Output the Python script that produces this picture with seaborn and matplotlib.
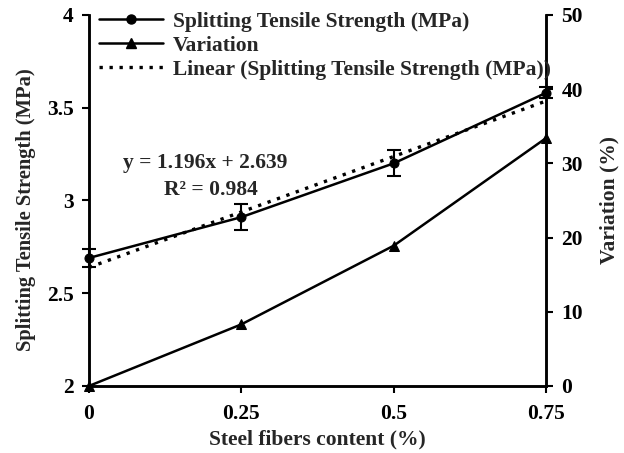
import matplotlib
matplotlib.use("Agg")
import matplotlib.pyplot as plt
import seaborn as sns
import pandas as pd
import numpy as np
from matplotlib.lines import Line2D

sns.set_theme(style="white")
plt.rcParams['font.family'] = ['Liberation Serif', 'DejaVu Serif']
plt.rcParams['font.weight'] = 'bold'

fiber = [0, 0.25, 0.5, 0.75]
strength = [2.69, 2.91, 3.20, 3.58]
strength_err = [0.05, 0.07, 0.07, 0.03]
variation = [0, 8.3, 18.9, 33.4]
slope, intercept = 1.196, 2.639
x_ticks = [0, 0.25, 0.5, 0.75]
x_tick_labels = ["0", "0.25", "0.5", "0.75"]
y_ticks = [2, 2.5, 3, 3.5, 4]
y2_ticks = [0, 10, 20, 30, 40, 50]

df = pd.DataFrame({"fiber": fiber, "strength": strength, "variation": variation})

fig = plt.figure(figsize=(6.24, 4.53), dpi=100)
ax = fig.add_axes([0.1426, 0.148, 0.7324, 0.819])
ax2 = ax.twinx()

lw = 1.8
fs = 15.5
ms = 6.5

# strength line
sns.lineplot(data=df, x="fiber", y="strength", ax=ax, color="black", lw=lw,
             marker="o", markersize=ms, markeredgecolor="black", zorder=4, clip_on=False)
ax.errorbar(fiber, strength, yerr=strength_err, fmt="none", ecolor="black",
            elinewidth=1.5, capsize=5, capthick=1.5, zorder=4, clip_on=False)
# trend line
xt = np.array([fiber[0], fiber[-1]])
ax.plot(xt, slope * xt + intercept, color="black", lw=2.4, ls=(0, (1, 2)), zorder=3)

# variation line
sns.lineplot(data=df, x="fiber", y="variation", ax=ax2, color="black", lw=lw,
             marker="^", markersize=ms, markeredgecolor="black", zorder=4, clip_on=False)

ax.set_xlim(0, 0.75)
ax.set_ylim(2, 4)
ax2.set_ylim(0, 50)
ax.set_xticks(x_ticks)
ax.set_xticklabels(x_tick_labels)
ax.set_yticks(y_ticks)
ax.set_yticklabels(["2", "2.5", "3", "3.5", "4"])
ax2.set_yticks(y2_ticks)

for a in (ax, ax2):
    for s in a.spines.values():
        s.set_color("black")
        s.set_linewidth(1.8)
    a.spines["top"].set_visible(False)
    a.tick_params(colors="black", labelsize=fs, width=1.5, length=5, direction="out")
    for lab in a.get_xticklabels() + a.get_yticklabels():
        lab.set_fontweight("bold")
ax.tick_params(axis="x", pad=8)
ax.tick_params(axis="y", pad=6, left=True)
ax.tick_params(axis="x", bottom=True)
ax2.tick_params(axis="y", pad=6, right=True)

ax.set_xlabel("Steel fibers content (%)", fontsize=fs, fontweight="bold", labelpad=4)
ax.set_ylabel("Splitting Tensile Strength (MPa)", fontsize=14.8, fontweight="bold")
ax.yaxis.set_label_coords(-0.115, 0.475)
ax2.set_ylabel("Variation (%)", fontsize=fs, fontweight="bold", labelpad=12)

ax.text(0.19, 3.2, f"y = {slope}x + {intercept}", fontsize=fs, fontweight="bold",
        ha="center", va="center")
ax.text(0.2, 3.055, "R² = 0.984", fontsize=fs, fontweight="bold",
        ha="center", va="center")

handles = [
    Line2D([], [], color="black", lw=lw, marker="o", markersize=ms),
    Line2D([], [], color="black", lw=lw, marker="^", markersize=ms),
    Line2D([], [], color="black", lw=2.4, ls=(0, (1, 2))),
]
labels = ["Splitting Tensile Strength (MPa)", "Variation",
          "Linear (Splitting Tensile Strength (MPa))"]
leg = ax2.legend(handles, labels, loc="upper left", bbox_to_anchor=(0.0, 1.035),
                 frameon=False, prop={"weight": "bold", "size": fs},
                 handlelength=3.0, handletextpad=0.45, labelspacing=0.18, borderaxespad=0.2,
                 borderpad=0.25)

fig.savefig("out.png", dpi=100)
